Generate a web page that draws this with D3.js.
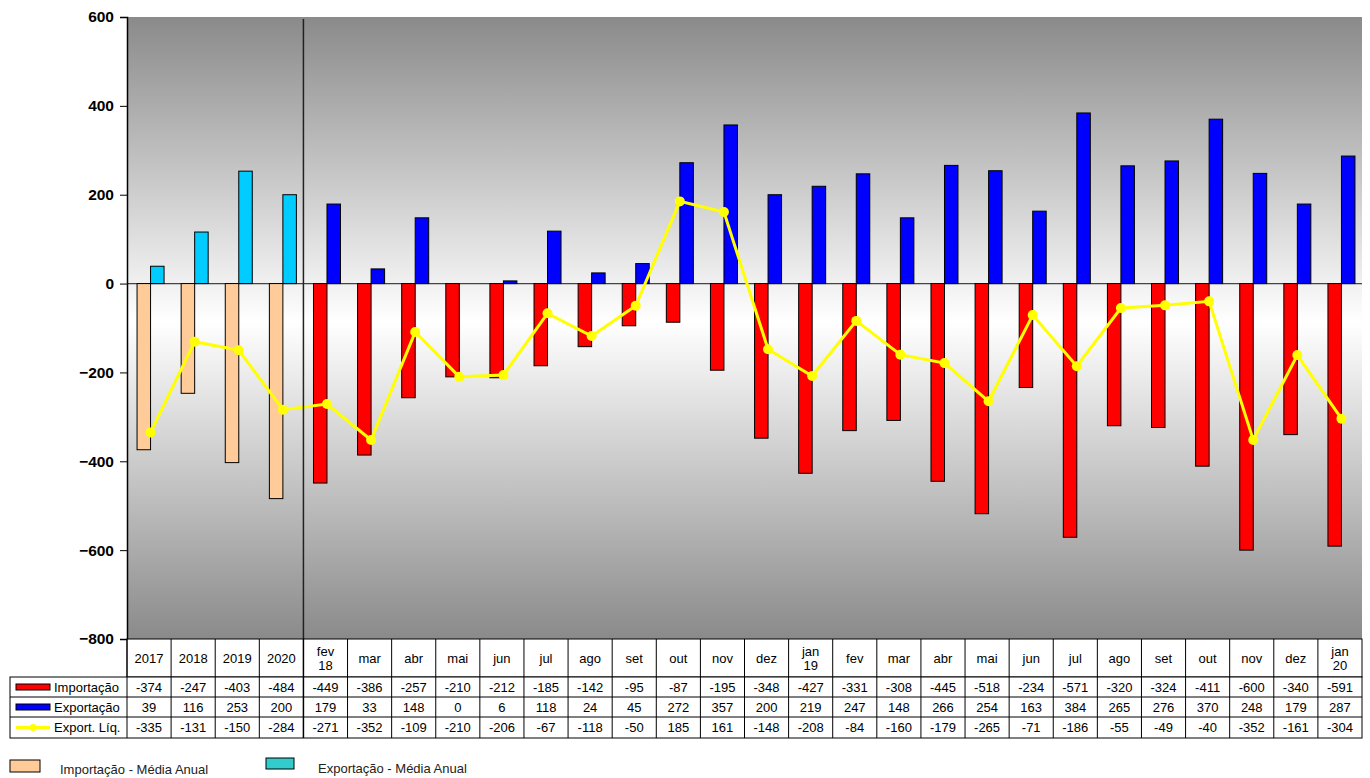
<!DOCTYPE html>
<html>
<head>
<meta charset="utf-8">
<script src="https://cdn.jsdelivr.net/npm/d3@7"></script>
<style>
  body { margin: 0; background: #fff; }
  svg { font-family: "Liberation Sans", Arial, sans-serif; }
</style>
</head>
<body>
<div id="chart"></div>
<script>
// categories: 4 annual averages then monthly values
var categories = ["2017", "2018", "2019", "2020", "fev\n18", "mar", "abr", "mai", "jun", "jul", "ago", "set", "out", "nov", "dez",
    "jan\n19", "fev", "mar", "abr", "mai", "jun", "jul", "ago", "set", "out", "nov", "dez", "jan\n20"];
var importacao = [-374, -247, -403, -484, -449, -386, -257, -210, -212, -185, -142, -95, -87, -195, -348,
    -427, -331, -308, -445, -518, -234, -571, -320, -324, -411, -600, -340, -591];
var exportacao = [39, 116, 253, 200, 179, 33, 148, 0, 6, 118, 24, 45, 272, 357, 200,
    219, 247, 148, 266, 254, 163, 384, 265, 276, 370, 248, 179, 287];
var liquida = [-335, -131, -150, -284, -271, -352, -109, -210, -206, -67, -118, -50, 185, 161, -148,
    -208, -84, -160, -179, -265, -71, -186, -55, -49, -40, -352, -161, -304];
var nAnual = 4;
var yTicks = [600, 400, 200, 0, -200, -400, -600, -800];

var width = 1370, height = 778;
var plotLeft = 127, plotRight = 1362, plotTop = 17, plotBottom = 639;

var svg = d3.select("#chart").append("svg")
    .attr("width", width)
    .attr("height", height);

var idx = d3.range(categories.length);
var x = d3.scaleBand().domain(idx).range([plotLeft, plotRight]).padding(0);
var y = d3.scaleLinear().domain([-800, 600]).range([plotBottom, plotTop]);

// bars sit a little right of the cell centre
function mid(i) { return x(i) + x.bandwidth() / 2 + 1.5; }

// gradient background
var grad = svg.append("defs").append("linearGradient")
    .attr("id", "bg").attr("x1", 0).attr("y1", 0).attr("x2", 0).attr("y2", 1);
grad.append("stop").attr("offset", "0%").attr("stop-color", "#8a8a8a");
grad.append("stop").attr("offset", "49%").attr("stop-color", "#ffffff");
grad.append("stop").attr("offset", "100%").attr("stop-color", "#8a8a8a");

svg.append("rect")
    .attr("x", plotLeft).attr("y", plotTop)
    .attr("width", plotRight - plotLeft).attr("height", plotBottom - plotTop)
    .attr("fill", "url(#bg)");

// zero line
svg.append("line")
    .attr("x1", plotLeft).attr("x2", plotRight)
    .attr("y1", y(0)).attr("y2", y(0))
    .attr("stroke", "#444").attr("stroke-width", 1.2);

var bw = 13.5;

// importação bars
svg.selectAll(".imp").data(idx).enter().append("rect")
    .attr("class", "imp")
    .attr("x", function(i) { return mid(i) - bw; })
    .attr("y", function(i) { return y(Math.max(0, importacao[i])); })
    .attr("width", bw)
    .attr("height", function(i) { return Math.abs(y(importacao[i]) - y(0)); })
    .attr("fill", function(i) { return i < nAnual ? "#ffcc99" : "#ff0000"; })
    .attr("stroke", "#000").attr("stroke-width", 1);

// exportação bars
svg.selectAll(".exp").data(idx).enter().append("rect")
    .attr("class", "exp")
    .attr("x", function(i) { return mid(i); })
    .attr("y", function(i) { return y(Math.max(0, exportacao[i])); })
    .attr("width", bw)
    .attr("height", function(i) { return Math.abs(y(exportacao[i]) - y(0)); })
    .attr("fill", function(i) { return i < nAnual ? "#00ccff" : "#0000ff"; })
    .attr("stroke", "#000").attr("stroke-width", 1);

// export. líquida line
var line = d3.line()
    .x(function(i) { return mid(i); })
    .y(function(i) { return y(liquida[i]); });

svg.append("path")
    .datum(idx)
    .attr("fill", "none")
    .attr("stroke", "#ffff00")
    .attr("stroke-width", 3)
    .attr("d", line);

svg.selectAll(".dot").data(idx).enter().append("circle")
    .attr("cx", function(i) { return mid(i); })
    .attr("cy", function(i) { return y(liquida[i]); })
    .attr("r", 5)
    .attr("fill", "#ffff00");

// separator between annual and monthly
svg.append("line")
    .attr("x1", x(nAnual)).attr("x2", x(nAnual))
    .attr("y1", plotTop + 2).attr("y2", plotBottom)
    .attr("stroke", "#222").attr("stroke-width", 1.5);

// y axis
var yAxis = svg.append("g")
    .attr("transform", "translate(" + plotLeft + ",0)")
    .call(d3.axisLeft(y).tickValues(yTicks).tickSize(7).tickPadding(6));
yAxis.select(".domain").attr("stroke", "#000").attr("stroke-width", 1.5);
yAxis.selectAll("text")
    .attr("font-size", 15.5).attr("font-weight", "bold").attr("fill", "#000")
    .attr("font-family", "Liberation Sans, Arial, sans-serif");

// data table
var rowY = [639, 677, 697, 717, 738];
var tableLeft = 10;
var table = svg.append("g").attr("font-size", 13).attr("fill", "#000");

table.append("rect")
    .attr("x", plotLeft).attr("y", rowY[0])
    .attr("width", plotRight - plotLeft).attr("height", rowY[1] - rowY[0])
    .attr("fill", "#fff").attr("stroke", "#000");
table.append("rect")
    .attr("x", tableLeft).attr("y", rowY[1])
    .attr("width", plotRight - tableLeft).attr("height", rowY[4] - rowY[1])
    .attr("fill", "#fff").attr("stroke", "#000");

[2, 3].forEach(function(r) {
    table.append("line")
        .attr("x1", tableLeft).attr("x2", plotRight)
        .attr("y1", rowY[r]).attr("y2", rowY[r])
        .attr("stroke", "#000");
});
idx.forEach(function(i) {
    table.append("line")
        .attr("x1", x(i)).attr("x2", x(i))
        .attr("y1", rowY[0]).attr("y2", rowY[4])
        .attr("stroke", "#000").attr("stroke-width", i === nAnual ? 1.5 : 1);
});

// header labels
idx.forEach(function(i) {
    var parts = categories[i].split("\n");
    var cx = x(i) + x.bandwidth() / 2;
    var t = table.append("text")
        .attr("x", cx)
        .attr("text-anchor", "middle");
    if (parts.length === 1) {
        t.attr("y", (rowY[0] + rowY[1]) / 2 + 5).text(parts[0]);
    } else {
        t.append("tspan").attr("x", cx).attr("y", rowY[0] + 17).text(parts[0]);
        t.append("tspan").attr("x", cx).attr("y", rowY[0] + 31).text(parts[1]);
    }
});

var rows = [
    { name: "Importação", values: importacao, color: "#ff0000", kind: "bar" },
    { name: "Exportação", values: exportacao, color: "#0000ff", kind: "bar" },
    { name: "Export. Líq.", values: liquida, color: "#ffff00", kind: "line" }
];

rows.forEach(function(row, r) {
    var y0 = rowY[r + 1], y1 = rowY[r + 2], m = (y0 + y1) / 2;
    if (row.kind === "bar") {
        table.append("rect")
            .attr("x", 16).attr("y", m - 3)
            .attr("width", 34).attr("height", 6)
            .attr("fill", row.color).attr("stroke", "#000");
    } else {
        table.append("line")
            .attr("x1", 16).attr("x2", 50)
            .attr("y1", m).attr("y2", m)
            .attr("stroke", row.color).attr("stroke-width", 3);
        table.append("circle")
            .attr("cx", 33).attr("cy", m).attr("r", 3.5)
            .attr("fill", row.color);
    }
    table.append("text")
        .attr("x", 54).attr("y", m + 4.5)
        .text(row.name);
    idx.forEach(function(i) {
        table.append("text")
            .attr("x", x(i) + x.bandwidth() / 2)
            .attr("y", m + 4.5)
            .attr("text-anchor", "middle")
            .text(row.values[i]);
    });
});

// bottom legend
var legend = svg.append("g").attr("font-size", 13).attr("fill", "#222");
legend.append("rect")
    .attr("x", 10).attr("y", 760).attr("width", 30).attr("height", 12)
    .attr("fill", "#ffcc99").attr("stroke", "#000");
legend.append("text").attr("x", 60).attr("y", 774).text("Importação - Média Anual");
legend.append("rect")
    .attr("x", 266).attr("y", 758).attr("width", 28).attr("height", 11)
    .attr("fill", "#33cccc").attr("stroke", "#000");
legend.append("text").attr("x", 318).attr("y", 773).text("Exportação - Média Anual");
</script>
</body>
</html>
